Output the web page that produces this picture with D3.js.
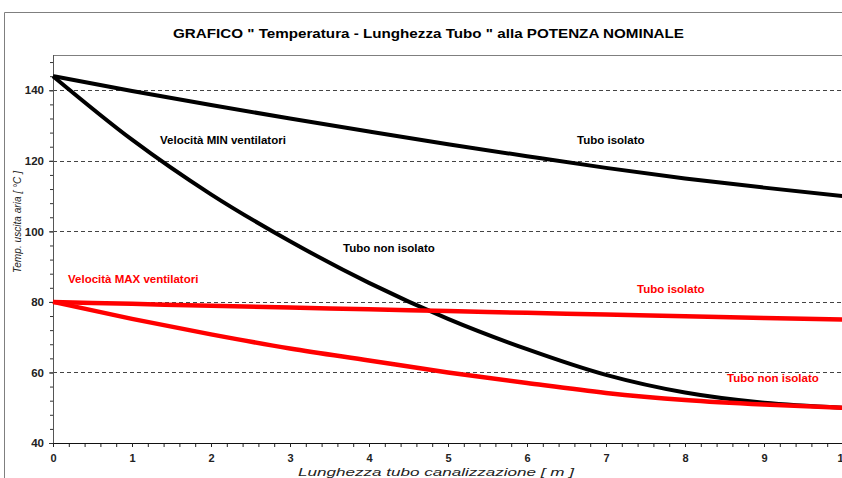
<!DOCTYPE html>
<html>
<head>
<meta charset="utf-8">
<script src="https://cdn.jsdelivr.net/npm/d3@7"></script>
<style>
  html, body { margin: 0; padding: 0; background: #fff; }
  svg { display: block; font-family: "Liberation Sans", Arial, sans-serif; }
</style>
</head>
<body>
<svg id="chart" width="842" height="478"></svg>
<script>
// ---- data ----
const lengths = [0, 1, 2, 3, 4, 5, 6, 7, 8, 9, 10];
const minIsolato    = [144, 139.8, 135.8, 132, 128.3, 124.7, 121.3, 118, 115, 112.4, 110];
const minNonIsolato = [144, 126, 110.5, 97.2, 85.4, 75.2, 66.6, 59.3, 54.3, 51.4, 50];
const maxIsolato    = [80, 79.45, 78.9, 78.4, 77.9, 77.4, 76.9, 76.4, 75.9, 75.45, 75];
const maxNonIsolato = [80, 75.2, 70.8, 66.8, 63.4, 60.0, 57.0, 54.2, 52.2, 50.9, 50];
const yMajorTicks = [40, 60, 80, 100, 120, 140];
const yGridValues = [60, 80, 100, 120, 140];
const xMajorTicks = [0, 1, 2, 3, 4, 5, 6, 7, 8, 9, 10];
const titleText = 'GRAFICO " Temperatura - Lunghezza Tubo " alla POTENZA NOMINALE';
const xTitle = 'Lunghezza tubo canalizzazione [ m ]';
const yTitle = 'Temp. uscita aria  [ °C ]';

const series = [
  { values: minIsolato, color: "#000", width: 4 },
  { values: minNonIsolato, color: "#000", width: 4 },
  { values: maxIsolato, color: "#ff0000", width: 4.5 },
  { values: maxNonIsolato, color: "#ff0000", width: 4.5 }
];
const annotations = [
  { text: "Velocità MIN ventilatori", x: 160, y: 144, color: "#000" },
  { text: "Tubo non isolato", x: 343, y: 251.5, color: "#000" },
  { text: "Tubo isolato", x: 577, y: 144, color: "#000" },
  { text: "Velocità MAX ventilatori", x: 68, y: 283, color: "#ff0000" },
  { text: "Tubo isolato", x: 637, y: 293, color: "#ff0000" },
  { text: "Tubo non isolato", x: 727, y: 382, color: "#ff0000" }
];

// ---- layout ----
const svg = d3.select("#chart");
const L = 53, R = 843, T = 55, B = 443;
const x = d3.scaleLinear().domain([0, 10]).range([L, R]);
const y = d3.scaleLinear().domain([40, 150]).range([B, T]);

// outer frame
svg.append("path")
  .attr("d", `M4.5,478 L4.5,12.5 L842,12.5`)
  .attr("fill", "none").attr("stroke", "#7f7f7f").attr("stroke-width", 1);

// title
svg.append("text")
  .attr("x", 173).attr("y", 38)
  .attr("textLength", 511).attr("lengthAdjust", "spacingAndGlyphs")
  .attr("font-size", 13.5).attr("font-weight", "bold").attr("fill", "#000")
  .text(titleText);

// plot top border
svg.append("line")
  .attr("x1", L).attr("x2", 842).attr("y1", T + 0.5).attr("y2", T + 0.5)
  .attr("stroke", "#7f7f7f").attr("stroke-width", 1);

// grid
svg.append("g").selectAll("line").data(yGridValues).join("line")
  .attr("x1", L).attr("x2", 842)
  .attr("y1", d => Math.round(y(d)) + 0.5).attr("y2", d => Math.round(y(d)) + 0.5)
  .attr("stroke", "#444").attr("stroke-width", 1).attr("stroke-dasharray", "4,3");

// y axis minor ticks
const yMinor = d3.range(40, 150, 4);
svg.append("g").attr("transform", `translate(${L},0)`)
  .call(d3.axisLeft(y).tickValues(yMinor).tickSize(3).tickFormat(""))
  .call(g => g.select(".domain").remove())
  .call(g => g.selectAll("line").attr("stroke", "#333"));
// y axis major
svg.append("g").attr("transform", `translate(${L},0)`)
  .call(d3.axisLeft(y).tickValues(yMajorTicks).tickSize(4).tickPadding(5).tickFormat(d3.format("d")))
  .call(g => g.select(".domain").attr("stroke", "#555").attr("d", `M0.5,${T}V${B}`))
  .call(g => g.selectAll("line").attr("stroke", "#333"))
  .call(g => g.selectAll("text").attr("font-size", 11.5).attr("font-weight", "bold")
    .attr("fill", "#222").attr("font-family", '"Liberation Sans", Arial, sans-serif'));

// x axis minor ticks
const xMinor = d3.range(0, 10.001, 0.2);
svg.append("g").attr("transform", `translate(0,${B})`)
  .call(d3.axisBottom(x).tickValues(xMinor).tickSize(4).tickFormat(""))
  .call(g => g.select(".domain").remove())
  .call(g => g.selectAll("line").attr("stroke", "#222"));
// x axis major
svg.append("g").attr("transform", `translate(0,${B})`)
  .call(d3.axisBottom(x).tickValues(xMajorTicks).tickSize(4).tickPadding(7).tickFormat(d3.format("d")))
  .call(g => g.select(".domain").attr("stroke", "#111").attr("d", `M${L},0.5H842`))
  .call(g => g.selectAll("line").attr("stroke", "#222"))
  .call(g => g.selectAll("text").attr("font-size", 11).attr("font-weight", "bold")
    .attr("fill", "#222").attr("font-family", '"Liberation Sans", Arial, sans-serif'));

// axis titles
svg.append("text")
  .attr("x", 436).attr("y", 476).attr("text-anchor", "middle")
  .attr("textLength", 276).attr("lengthAdjust", "spacingAndGlyphs")
  .attr("font-size", 10.5).attr("font-style", "italic").attr("fill", "#222")
  .text(xTitle);
svg.append("text")
  .attr("transform", `translate(21,222) rotate(-90)`)
  .attr("text-anchor", "middle")
  .attr("textLength", 102).attr("lengthAdjust", "spacingAndGlyphs")
  .attr("font-size", 11).attr("font-style", "italic").attr("fill", "#222")
  .text(yTitle);

// lines
const lineGen = d3.line()
  .x((d, i) => x(lengths[i]))
  .y(d => y(d))
  .curve(d3.curveMonotoneX);
svg.append("g").selectAll("path").data(series).join("path")
  .attr("d", s => lineGen(s.values))
  .attr("fill", "none")
  .attr("stroke", s => s.color)
  .attr("stroke-width", s => s.width)
  .attr("stroke-linejoin", "round")
  .attr("stroke-linecap", "butt");

// annotations
svg.append("g").selectAll("text").data(annotations).join("text")
  .attr("x", d => d.x).attr("y", d => d.y)
  .attr("font-size", 11.5).attr("font-weight", "bold")
  .attr("fill", d => d.color)
  .text(d => d.text);
</script>
</body>
</html>
